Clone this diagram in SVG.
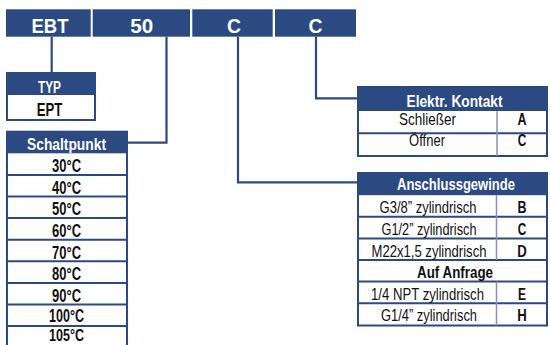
<svg xmlns="http://www.w3.org/2000/svg" width="550" height="345" viewBox="0 0 550 345">
<style>
  .nav { fill: #2c4a82; }
  .box { fill: #ffffff; stroke: #2c4a82; stroke-width: 2; }
  .sep { stroke: #2c4a82; stroke-width: 2; fill: none; }
  .col { stroke: #8890bb; stroke-width: 1.5; fill: none; }
  .con { stroke: #2c4a82; stroke-width: 2.2; fill: none; }
  text { font-family: "Liberation Sans", Arial, sans-serif; text-anchor: middle; }
  .top { fill: #ffffff; font-weight: bold; font-size: 21px; }
  .hd { fill: #ffffff; font-weight: bold; font-size: 16.5px; }
  .bk { fill: #111111; font-weight: bold; font-size: 18px; }
  .rg { fill: #111111; font-size: 16.5px; }
  .bs { fill: #111111; font-weight: bold; font-size: 17px; }
</style>

<g id="connectors">
  <path class="con" d="M51.7 36.7 V73"/>
  <path class="con" d="M166.5 36.7 V142.7 H127"/>
  <path class="con" d="M238 36.7 V182.3 H357.5"/>
  <path class="con" d="M316 36.7 V98.3 H357.5"/>
</g>

<g id="code-bar">
  <rect class="nav" x="6" y="9.3" width="84.7" height="27.4"/>
  <rect class="nav" x="92.7" y="9.3" width="97.3" height="27.4"/>
  <rect class="nav" x="192.3" y="9.3" width="80.4" height="27.4"/>
  <rect class="nav" x="275" y="9.3" width="81" height="27.4"/>
  <text class="top" x="50" y="33.3" textLength="37" lengthAdjust="spacingAndGlyphs">EBT</text>
  <text class="top" x="141.7" y="33.3" textLength="23" lengthAdjust="spacingAndGlyphs">50</text>
  <text class="top" x="234" y="33.3" textLength="14" lengthAdjust="spacingAndGlyphs">C</text>
  <text class="top" x="315.5" y="33.3" textLength="14" lengthAdjust="spacingAndGlyphs">C</text>
</g>

<g id="typ">
  <rect class="box" x="7" y="73" width="88" height="47"/>
  <rect class="nav" x="6" y="73" width="90" height="22"/>
  <text class="hd" x="49.5" y="93" textLength="23" lengthAdjust="spacingAndGlyphs">TYP</text>
  <text class="bk" x="49.5" y="115.7" textLength="25.6" lengthAdjust="spacingAndGlyphs">EPT</text>
</g>

<g id="schaltpunkt">
  <rect class="box" x="7" y="131.7" width="120" height="225"/>
  <rect class="nav" x="6" y="131.7" width="122" height="21.6"/>
  <text class="hd" x="66.5" y="149.5" textLength="79" lengthAdjust="spacingAndGlyphs">Schaltpunkt</text>
  <path class="sep" d="M7 174.9 H127 M7 196.5 H127 M7 218.1 H127 M7 239.7 H127 M7 261.3 H127 M7 282.9 H127 M7 304.5 H127 M7 326.1 H127"/>
  <text class="bk" x="66.5" y="172.2" textLength="29" lengthAdjust="spacingAndGlyphs">30°C</text>
  <text class="bk" x="66.5" y="193.8" textLength="29" lengthAdjust="spacingAndGlyphs">40°C</text>
  <text class="bk" x="66.5" y="215.4" textLength="29" lengthAdjust="spacingAndGlyphs">50°C</text>
  <text class="bk" x="66.5" y="237" textLength="29" lengthAdjust="spacingAndGlyphs">60°C</text>
  <text class="bk" x="66.5" y="258.6" textLength="29" lengthAdjust="spacingAndGlyphs">70°C</text>
  <text class="bk" x="66.5" y="280.2" textLength="29" lengthAdjust="spacingAndGlyphs">80°C</text>
  <text class="bk" x="66.5" y="301.8" textLength="29" lengthAdjust="spacingAndGlyphs">90°C</text>
  <text class="bk" x="66.5" y="321.8" textLength="35" lengthAdjust="spacingAndGlyphs">100°C</text>
  <text class="bk" x="66.5" y="341.3" style="font-size:17px" textLength="35" lengthAdjust="spacingAndGlyphs">105°C</text>
</g>

<g id="kontakt">
  <rect class="box" x="358" y="87" width="189" height="69"/>
  <rect class="nav" x="357.5" y="86.7" width="190.5" height="24.3"/>
  <text class="hd" x="454.5" y="106.7" textLength="96" lengthAdjust="spacingAndGlyphs">Elektr. Kontakt</text>
  <path class="sep" d="M358 133.3 H547"/>
  <path class="col" d="M497 111 V156"/>
  <text class="rg" x="427.5" y="124.8" textLength="57" lengthAdjust="spacingAndGlyphs">Schließer</text>
  <text class="bs" x="522" y="124.8" textLength="9" lengthAdjust="spacingAndGlyphs">A</text>
  <text class="rg" x="427" y="146.3" textLength="36" lengthAdjust="spacingAndGlyphs">Öffner</text>
  <text class="bs" x="522" y="146.3" textLength="8.5" lengthAdjust="spacingAndGlyphs">C</text>
</g>

<g id="anschlussgewinde">
  <rect class="box" x="358" y="173" width="189" height="152.5"/>
  <rect class="nav" x="357.5" y="172.3" width="190.5" height="22.9"/>
  <text class="hd" x="456" y="189.5" textLength="118" lengthAdjust="spacingAndGlyphs">Anschlussgewinde</text>
  <path class="sep" d="M358 216.8 H547 M358 238.4 H547 M358 260 H547 M358 281.6 H547 M358 303.2 H547"/>
  <path class="col" d="M496.5 195.2 V260 M496.5 281.6 V325.5"/>
  <text class="rg" x="428" y="213.3" textLength="97" lengthAdjust="spacingAndGlyphs">G3/8” zylindrisch</text>
  <text class="bs" x="522" y="213.3" textLength="9" lengthAdjust="spacingAndGlyphs">B</text>
  <text class="rg" x="429" y="235" textLength="95" lengthAdjust="spacingAndGlyphs">G1/2” zylindrisch</text>
  <text class="bs" x="522" y="235" textLength="8.5" lengthAdjust="spacingAndGlyphs">C</text>
  <text class="rg" x="429" y="256.6" textLength="115" lengthAdjust="spacingAndGlyphs">M22x1,5 zylindrisch</text>
  <text class="bs" x="522" y="256.6" textLength="9.5" lengthAdjust="spacingAndGlyphs">D</text>
  <text class="bs" x="455" y="278.2" textLength="76" lengthAdjust="spacingAndGlyphs">Auf Anfrage</text>
  <text class="rg" x="427.5" y="299.8" textLength="113" lengthAdjust="spacingAndGlyphs">1/4 NPT zylindrisch</text>
  <text class="bs" x="522" y="299.8" textLength="8" lengthAdjust="spacingAndGlyphs">E</text>
  <text class="rg" x="429" y="321.4" textLength="96" lengthAdjust="spacingAndGlyphs">G1/4” zylindrisch</text>
  <text class="bs" x="522" y="321.4" textLength="9.5" lengthAdjust="spacingAndGlyphs">H</text>
</g>
</svg>
